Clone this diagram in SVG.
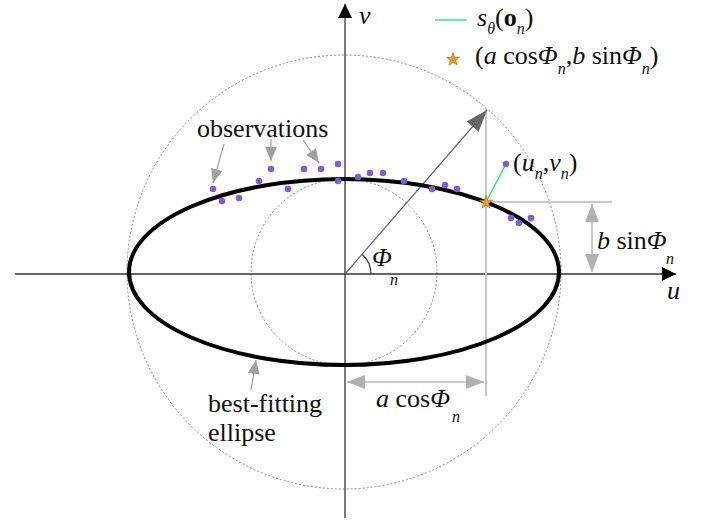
<svg xmlns="http://www.w3.org/2000/svg" width="706" height="521" viewBox="0 0 706 521">
<defs>
<marker id="ah" viewBox="0 0 10 10" refX="10" refY="5" markerWidth="14" markerHeight="14" markerUnits="userSpaceOnUse" orient="auto"><path d="M0,0 L10,5 L0,10 z" fill="#000"/></marker>
<marker id="gh" viewBox="0 0 10 10" refX="10" refY="5" markerWidth="18" markerHeight="14" markerUnits="userSpaceOnUse" orient="auto-start-reverse" preserveAspectRatio="none"><path d="M0,0 L10,5 L0,10 z" fill="#b0b0b0"/></marker>
<marker id="oh" viewBox="0 0 10 10" refX="10" refY="5" markerWidth="14" markerHeight="12" markerUnits="userSpaceOnUse" orient="auto" preserveAspectRatio="none"><path d="M0,0 L10,5 L0,10 z" fill="#a0a0a0"/></marker>
<marker id="rh" viewBox="0 0 10 10" refX="10" refY="5" markerWidth="22" markerHeight="16" markerUnits="userSpaceOnUse" orient="auto" preserveAspectRatio="none"><path d="M0,0 L10,5 L0,10 z" fill="#666"/></marker>
</defs>
<style>
text{font-family:Liberation Serif,Times New Roman,Tinos,DejaVu Serif,Noto Serif,serif;fill:#111}
.it{font-style:italic}
.lbl{font-size:26px}
.sub{font-size:16px;font-style:italic}
.dot{fill:#7f5fd0}
.dim{stroke:#c8c8c8;stroke-width:2;fill:none}
.circ{fill:none;stroke:#888;stroke-width:1;stroke-dasharray:2,2}
</style>
<rect width="706" height="521" fill="#fff"/>
<g id="circles">
<circle class="circ" cx="344" cy="272" r="217"/>
<circle class="circ" cx="344" cy="272" r="93"/>
</g>
<g id="connectors">
<line x1="15" y1="274" x2="676" y2="274" stroke="#333" stroke-width="1.3" marker-end="url(#ah)"/>
<line x1="345" y1="518" x2="345" y2="4" stroke="#333" stroke-width="1.3" marker-end="url(#ah)"/>
<line class="dim" x1="486" y1="108" x2="486" y2="396"/>
<line class="dim" x1="486" y1="202" x2="612" y2="202"/>
<line class="dim" x1="592" y1="204" x2="592" y2="272" marker-start="url(#gh)" marker-end="url(#gh)"/>
<line class="dim" x1="347" y1="382" x2="484" y2="382" marker-start="url(#gh)" marker-end="url(#gh)"/>
<line x1="345" y1="274" x2="487" y2="110" stroke="#666" stroke-width="1.2" marker-end="url(#rh)"/>
<path d="M371,274 A26,26 0 0 0 362.2,254.5" fill="none" stroke="#333" stroke-width="1.2"/>
<line x1="486" y1="202" x2="506" y2="164" stroke="#22ee66" stroke-width="1.5"/>
<line x1="224" y1="144" x2="213" y2="183" stroke="#a0a0a0" stroke-width="1.2" marker-end="url(#oh)"/>
<line x1="271" y1="139" x2="271" y2="161" stroke="#a0a0a0" stroke-width="1.2" marker-end="url(#oh)"/>
<line x1="303" y1="140" x2="319" y2="163" stroke="#a0a0a0" stroke-width="1.2" marker-end="url(#oh)"/>
<line x1="251" y1="390" x2="256" y2="360" stroke="#a0a0a0" stroke-width="1.2" marker-end="url(#oh)"/>
</g>
<g id="ellipse">
<ellipse cx="344" cy="272" rx="215" ry="93" fill="none" stroke="#000" stroke-width="4"/>
</g>
<g id="observations">
<circle class="dot" cx="213" cy="189" r="3.3"/>
<circle class="dot" cx="222" cy="201" r="3.3"/>
<circle class="dot" cx="239" cy="198" r="3.3"/>
<circle class="dot" cx="259" cy="181" r="3.3"/>
<circle class="dot" cx="271" cy="169" r="3.3"/>
<circle class="dot" cx="288" cy="189" r="3.3"/>
<circle class="dot" cx="304" cy="169" r="3.3"/>
<circle class="dot" cx="321" cy="169" r="3.3"/>
<circle class="dot" cx="338" cy="164" r="3.3"/>
<circle class="dot" cx="338" cy="181" r="3.3"/>
<circle class="dot" cx="358" cy="177" r="3.3"/>
<circle class="dot" cx="370" cy="173" r="3.3"/>
<circle class="dot" cx="383" cy="173" r="3.3"/>
<circle class="dot" cx="404" cy="181" r="3.3"/>
<circle class="dot" cx="432" cy="189" r="3.3"/>
<circle class="dot" cx="445" cy="185" r="3.3"/>
<circle class="dot" cx="457" cy="189" r="3.3"/>
<circle class="dot" cx="506" cy="164" r="3.3"/>
<circle class="dot" cx="511" cy="218" r="3.3"/>
<circle class="dot" cx="519" cy="223" r="3.3"/>
<circle class="dot" cx="531" cy="218" r="3.3"/>
</g>
<g id="star">
<path d="M486,195.5 L487.6,200.3 L492.6,200.3 L488.6,203.3 L490.1,208.1 L486,205.2 L481.9,208.1 L483.4,203.3 L479.4,200.3 L484.4,200.3 z" fill="#f0a020" stroke="#a06010" stroke-width="0.6"/>
</g>
<g id="labels">
<text class="lbl" x="197" y="137">observations</text>
<text class="lbl" x="208" y="412">best-fitting</text>
<text class="lbl" x="208" y="441">ellipse</text>
<text class="lbl it" x="359" y="24">v</text>
<text class="lbl it" x="667" y="299">u</text>
<text class="lbl it" x="372" y="266">Φ</text><text class="sub" x="390" y="285">n</text>
<text class="lbl" x="513" y="171">(<tspan class="it">u</tspan><tspan class="sub" dy="8">n</tspan><tspan dy="-8">,</tspan><tspan class="it">v</tspan><tspan class="sub" dy="8">n</tspan><tspan dy="-8">)</tspan></text>
<text class="lbl" x="597" y="249"><tspan class="it">b</tspan> sin<tspan class="it">Φ</tspan></text><text class="sub" x="666" y="264">n</text>
<text class="lbl" x="376" y="407"><tspan class="it">a</tspan> cos<tspan class="it">Φ</tspan></text><text class="sub" x="452" y="422">n</text>
</g>
<g id="legend">
<line x1="435" y1="20" x2="467" y2="20" stroke="#33ee77" stroke-width="1.5"/>
<text class="lbl" x="477" y="26"><tspan class="it">s</tspan><tspan class="sub" dy="8">θ</tspan><tspan dy="-8">(</tspan><tspan font-weight="bold">o</tspan><tspan class="sub" dy="8">n</tspan><tspan dy="-8">)</tspan></text>
<path d="M453,52.5 L454.6,57.3 L459.6,57.3 L455.6,60.3 L457.1,65.1 L453,62.2 L448.9,65.1 L450.4,60.3 L446.4,57.3 L451.4,57.3 z" fill="#f0a020" stroke="#a06010" stroke-width="0.6"/>
<text class="lbl" x="475" y="64">(<tspan class="it">a</tspan> cos<tspan class="it">Φ</tspan><tspan class="sub" dy="10">n</tspan><tspan dy="-10">,</tspan><tspan class="it">b</tspan> sin<tspan class="it">Φ</tspan><tspan class="sub" dy="10">n</tspan><tspan dy="-10">)</tspan></text>
</g>
</svg>
